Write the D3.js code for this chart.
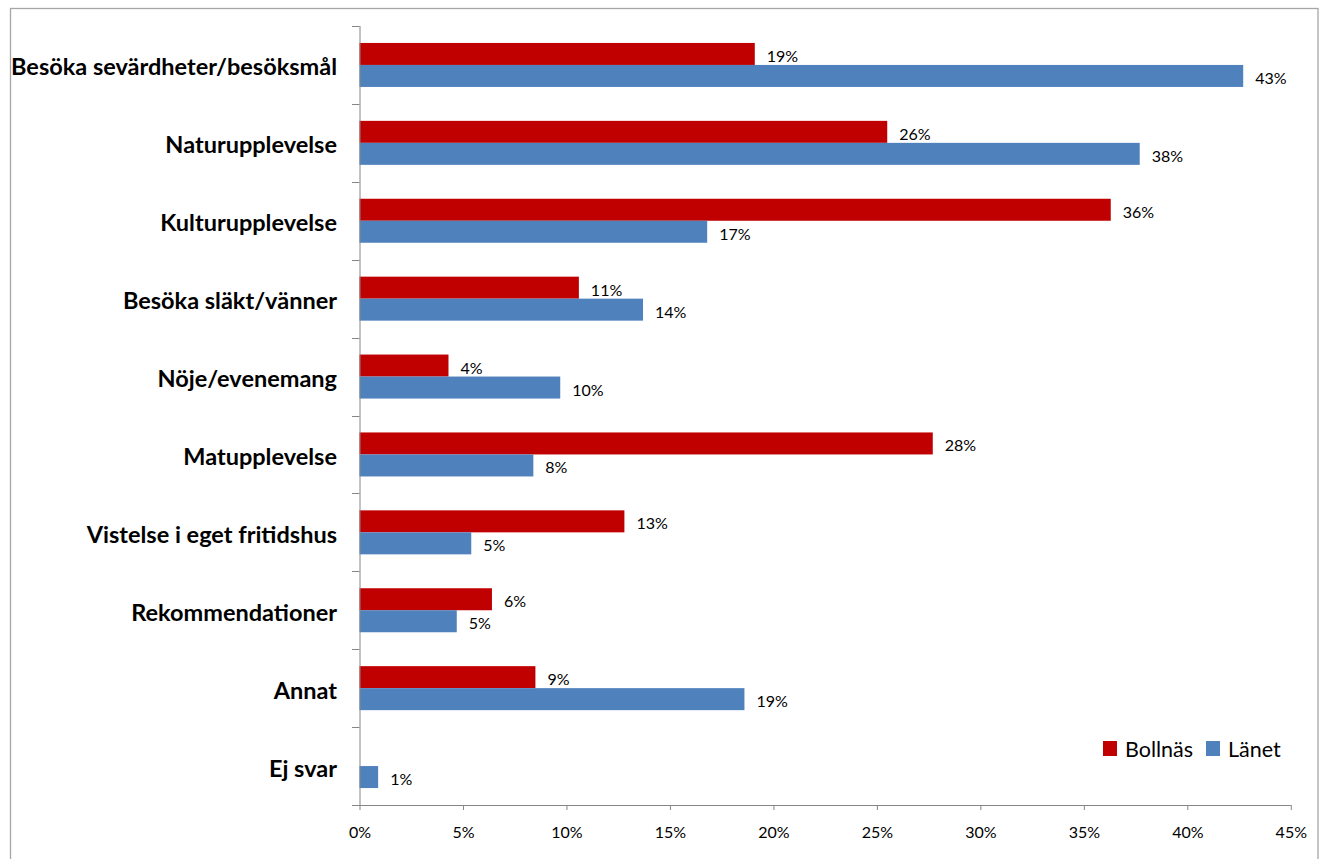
<!DOCTYPE html>
<html><head><meta charset="utf-8">
<script src="https://cdn.jsdelivr.net/npm/d3@7"></script>
<style>
html,body{margin:0;padding:0;background:#fff;}
svg{display:block;}
</style></head>
<body>
<svg id="chart" width="1327" height="859"></svg>
<script>
const categories = ["Besöka sevärdheter/besöksmål","Naturupplevelse","Kulturupplevelse","Besöka släkt/vänner","Nöje/evenemang","Matupplevelse","Vistelse i eget fritidshus","Rekommendationer","Annat","Ej svar"];
const seriesNames = ["Bollnäs","Länet"];
const bollnas = [19.1, 25.5, 36.3, 10.6, 4.3, 27.7, 12.8, 6.4, 8.5, 0];
const lanet   = [42.7, 37.7, 16.8, 13.7, 9.7, 8.4, 5.4, 4.7, 18.6, 0.9];
const xTicks = [0,5,10,15,20,25,30,35,40,45];
const colors = ["#C00000","#4F81BD"];

const svg = d3.select("#chart");
const font = "Lato, 'Open Sans', sans-serif";

// outer frame
svg.append("rect").attr("x",10.5).attr("y",8.5).attr("width",1307.5).attr("height",870)
  .attr("fill","none").attr("stroke","#a6a6a6").attr("stroke-width",1.3);

const x = d3.scaleLinear().domain([0,45]).range([359.5,1290.8]);
const y = d3.scaleBand().domain(categories).range([26,805]);
const bw = y.bandwidth();
const ySub = d3.scaleBand().domain(seriesNames).range([bw*0.2176, bw*0.7824]);

const data = categories.map((c,i)=>({cat:c, vals:[bollnas[i], lanet[i]]}));

// bars
const g = svg.append("g");
data.forEach(d=>{
  d.vals.forEach((v,k)=>{
    if (v<=0) return;
    const yy = y(d.cat)+ySub(seriesNames[k]);
    g.append("rect").attr("x",x(0)).attr("y",yy)
      .attr("width",x(v)-x(0)).attr("height",ySub.bandwidth())
      .attr("fill",colors[k]);
    g.append("text").attr("x",x(v)+12).attr("y",yy+ySub.bandwidth()/2+1.5)
      .attr("dominant-baseline","central")
      .attr("font-family",font).attr("font-size",16).attr("fill","#000")
      .text(Math.round(v)+"%");
  });
});

// x axis
const xAxis = d3.axisBottom(x).tickValues(xTicks).tickFormat(d=>d+"%").tickSize(5).tickSizeOuter(0);
const gx = svg.append("g").attr("transform","translate(0,805)").call(xAxis);
gx.select(".domain").attr("stroke","#868686").attr("d","M352,0.5H"+x(45));
gx.selectAll(".tick line").attr("stroke","#868686");
gx.selectAll(".tick text").attr("font-family",font).attr("font-size",16).attr("fill","#000")
  .attr("y",0).attr("dy",null).attr("dominant-baseline","alphabetic").attr("transform","translate(0,33)");

// y axis
const yAxis = d3.axisLeft(y).tickSize(0).tickFormat("");
const gy = svg.append("g").attr("transform","translate("+x(0)+",0)").call(yAxis);
gy.select(".domain").attr("stroke","#868686").attr("d","M0.5,26V805");
// category tick marks at band boundaries
const bounds = categories.map(c=>y(c)).concat([805]);
svg.append("g").selectAll("line").data(bounds).join("line")
  .attr("x1",352).attr("x2",x(0)).attr("y1",d=>Math.round(d)+0.5).attr("y2",d=>Math.round(d)+0.5)
  .attr("stroke","#868686");

// category labels
svg.append("g").selectAll("text").data(categories).join("text")
  .attr("x",337).attr("y",d=>y(d)+bw/2+1.5)
  .attr("text-anchor","end").attr("dominant-baseline","central")
  .attr("font-family",font).attr("font-weight","bold").attr("font-size",23.5).attr("fill","#000")
  .text(d=>d);

// legend
const leg = svg.append("g");
const legX = [1103, 1206];
seriesNames.forEach((n,k)=>{
  leg.append("rect").attr("x",legX[k]).attr("y",741).attr("width",14).attr("height",15).attr("fill",colors[k]);
  leg.append("text").attr("x",legX[k]+22).attr("y",757)
    .attr("font-family",font).attr("font-size",21.5).attr("fill","#000").text(n);
});
</script>
</body></html>
